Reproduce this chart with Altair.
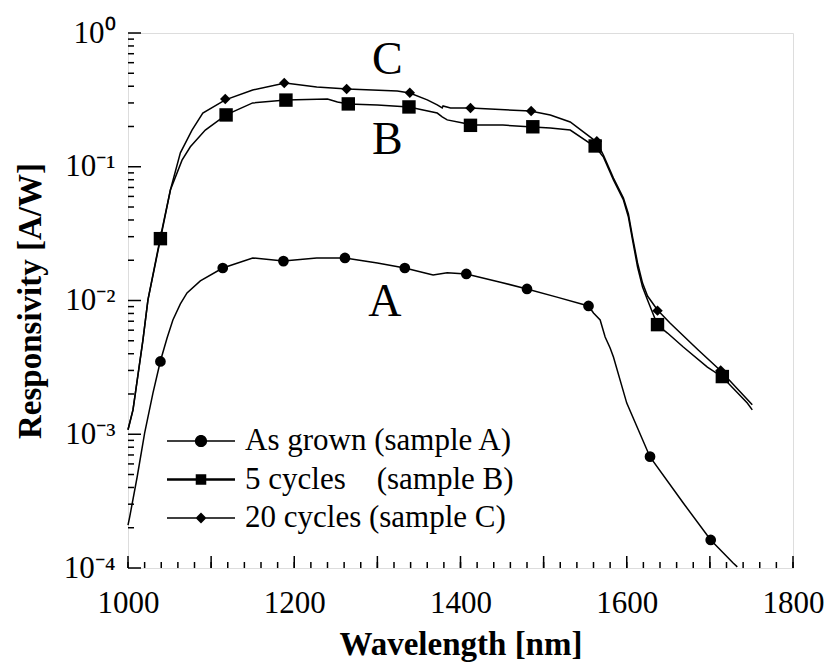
import altair as alt
import pandas as pd

# ---------------- data ----------------
series_names = ["As grown (sample A)",
                "5 cycles\u00a0\u00a0\u00a0\u00a0(sample B)",
                "20 cycles (sample C)"]

# continuous spectra
a_nm = [1000, 1002, 1011, 1020, 1030, 1039, 1047, 1054, 1063, 1071, 1087, 1114, 1150, 1187,
        1227, 1261, 1300, 1333, 1367, 1384, 1407, 1448, 1480, 1516, 1554, 1560, 1568, 1574,
        1580, 1584, 1600, 1628, 1668, 1701, 1728, 1733]
a_val = [0.000209, 0.00024, 0.000479, 0.00102, 0.00203, 0.00353, 0.00525, 0.00715, 0.00942,
         0.0114, 0.0140, 0.0175, 0.0208, 0.0197, 0.0208, 0.0208, 0.0191, 0.0175, 0.0155, 0.0161,
         0.0158, 0.0137, 0.0122, 0.0106, 0.0091, 0.00807, 0.00715, 0.00533, 0.00442, 0.00378,
         0.00171, 0.000676, 0.000306, 0.000162, 0.000109, 0.000102]

b_nm = [1000, 1006, 1018, 1024, 1039, 1051, 1065, 1075, 1093, 1118, 1150, 1190, 1240, 1252,
        1265, 1300, 1338, 1355, 1372, 1378, 1384, 1403, 1412, 1451, 1487, 1508, 1532, 1562,
        1572, 1584, 1596, 1602, 1607, 1613, 1619, 1625, 1637, 1649, 1668, 1697, 1715, 1745, 1751]
b_val = [0.00108, 0.00152, 0.00507, 0.0101, 0.0288, 0.067, 0.112, 0.141, 0.188, 0.244, 0.300,
         0.316, 0.321, 0.305, 0.294, 0.290, 0.280, 0.266, 0.252, 0.236, 0.224, 0.212, 0.205,
         0.205, 0.198, 0.195, 0.188, 0.141, 0.118, 0.0796, 0.0564, 0.0421, 0.0283, 0.0178,
         0.0126, 0.0101, 0.00656, 0.00571, 0.00449, 0.00318, 0.00268, 0.00171, 0.00152]

c_nm = [1000, 1006, 1018, 1024, 1039, 1051, 1063, 1077, 1090, 1117, 1150, 1189, 1227, 1264,
        1324, 1339, 1360, 1372, 1378, 1379, 1388, 1412, 1484, 1508, 1532, 1564, 1572, 1584,
        1596, 1602, 1607, 1613, 1619, 1625, 1637, 1652, 1686, 1712, 1751]
c_val = [0.00108, 0.00152, 0.00507, 0.0101, 0.0298, 0.067, 0.127, 0.188, 0.252, 0.316, 0.375,
         0.423, 0.395, 0.381, 0.368, 0.356, 0.316, 0.290, 0.275, 0.285, 0.275, 0.275, 0.261,
         0.244, 0.216, 0.153, 0.122, 0.0824, 0.0584, 0.0443, 0.0298, 0.0191, 0.0135, 0.0108,
         0.0085, 0.00679, 0.00427, 0.00302, 0.00166]

# symbols on the curves
a_mk_nm = [1039, 1114, 1187, 1261, 1333, 1407, 1480, 1554, 1628, 1701]
a_mk_val = [0.0035, 0.0175, 0.0197, 0.0208, 0.0175, 0.0158, 0.0122, 0.0091, 0.00068, 0.000162]
b_mk_nm = [1039, 1118, 1190, 1265, 1338, 1412, 1487, 1562, 1637, 1715]
b_mk_val = [0.029, 0.244, 0.315, 0.295, 0.280, 0.204, 0.199, 0.143, 0.0066, 0.0027]
c_mk_nm = [1039, 1117, 1188, 1263, 1339, 1412, 1485, 1564, 1637, 1713]
c_mk_val = [0.030, 0.321, 0.423, 0.381, 0.358, 0.275, 0.261, 0.155, 0.0084, 0.0030]

# curve letters
ann_text = ["A", "B", "C"]
ann_nm = [1309, 1312, 1312]
ann_val = [0.0098, 0.158, 0.628]

# axes
x_label_values = [1000, 1200, 1400, 1600, 1800]
x_major_ticks = list(range(1000, 1801, 100))
x_minor_ticks = list(range(1000, 1801, 20))
y_label_values = [1.0, 0.1, 0.01, 0.001, 0.0001]
y_label_texts = ["10\u2070", "10\u207b\u00b9", "10\u207b\u00b2", "10\u207b\u00b3", "10\u207b\u2074"]
y_minor_ticks = [m * 10.0 ** e for e in (-4, -3, -2, -1) for m in range(2, 10)]

# ---------------- tables ----------------
lines_df = pd.concat([
    pd.DataFrame({"series": series_names[0], "nm": a_nm, "val": a_val}),
    pd.DataFrame({"series": series_names[1], "nm": b_nm, "val": b_val}),
    pd.DataFrame({"series": series_names[2], "nm": c_nm, "val": c_val}),
], ignore_index=True)
mk_a = pd.DataFrame({"series": series_names[0], "nm": a_mk_nm, "val": a_mk_val})
mk_b = pd.DataFrame({"series": series_names[1], "nm": b_mk_nm, "val": b_mk_val})
mk_c = pd.DataFrame({"series": series_names[2], "nm": c_mk_nm, "val": c_mk_val})
mk_all = pd.concat([mk_a, mk_b, mk_c], ignore_index=True)
ann_df = pd.DataFrame({"t": ann_text, "nm": ann_nm, "val": ann_val})

FONT = "Liberation Serif"
W, H = 665, 535
xscale = alt.Scale(domain=[1000, 1800], nice=False, zero=False)
yscale = alt.Scale(type="log", domain=[0.0001, 1], nice=False)

label_expr = " : ".join(
    f"abs(log(datum.value)/LN10 - ({v_exp})) < 0.01 ? '{t}'"
    for v_exp, t in zip([0, -1, -2, -3, -4], y_label_texts)
) + " : ''"

AX_X = alt.Axis(
    orient="bottom", values=x_label_values, ticks=False, domain=False, grid=False,
    labelFont=FONT, labelFontSize=31, labelColor="black", labelPadding=20, format="d",
    labelFlush=False,
    title="Wavelength [nm]", titleFont=FONT, titleFontSize=33, titleFontWeight="bold",
    titleColor="black", titlePadding=10)
AX_Y = alt.Axis(
    orient="left", values=y_label_values, labelExpr=label_expr, ticks=False, domain=False,
    grid=False, labelFont=FONT, labelFontSize=31, labelColor="black", labelPadding=13,
    labelFlush=False,
    title="Responsivity [A/W]", titleFont=FONT, titleFontSize=33, titleFontWeight="bold",
    titleColor="black", titlePadding=16)

def X(field="nm"):
    return alt.X(f"{field}:Q", scale=xscale, axis=AX_X)

def Y(field="val"):
    return alt.Y(f"{field}:Q", scale=yscale, axis=AX_Y)

lines = alt.Chart(lines_df).mark_line(color="black", strokeWidth=1.5).encode(
    x=X(), y=Y(), detail="series:N", order="nm:Q",
)

def marker_layer(df, shape, size):
    return alt.Chart(df).mark_point(shape=shape, size=size, filled=True, color="black",
                                    opacity=1).encode(x=X(), y=Y())

m_a = marker_layer(mk_a, "circle", 115)
m_b = marker_layer(mk_b, "square", 180)
m_c = marker_layer(mk_c, "diamond", 110)

# legend symbols: a line with the marker in the middle (unit = 17 px)
legend_paths = [
    "M-2,-0.045H2V0.045H-2Z M0.36,0A0.36,0.36,0,1,1,-0.36,0A0.36,0.36,0,1,1,0.36,0Z",
    "M-2,-0.075H2V0.075H-2Z M-0.31,-0.31H0.31V0.31H-0.31Z",
    "M-2,-0.045H2V0.045H-2Z M0,-0.32L0.32,0L0,0.32L-0.32,0Z",
]
carrier = alt.Chart(mk_all).mark_point(filled=True, color="black", opacity=0).encode(
    x=X(), y=Y(),
    shape=alt.Shape("series:N", scale=alt.Scale(domain=series_names, range=legend_paths),
                    legend=alt.Legend(title=None, orient="none", legendX=56, legendY=391,
                                      padding=0,
                                      symbolSize=1156, symbolFillColor="black",
                                      symbolStrokeColor="black", symbolStrokeWidth=0,
                                      symbolOpacity=1, labelFont=FONT, labelFontSize=31,
                                      labelColor="black", labelOffset=27, labelLimit=600,
                                      rowPadding=6.5)),
)

labels = alt.Chart(ann_df).mark_text(font=FONT, fontSize=46, color="black",
                                     baseline="middle", align="center").encode(
    x=X(), y=Y(), text="t:N",
)

# inward ticks: positions through the scales, fixed pixel lengths
def x_ticks(vals, length):
    return alt.Chart(pd.DataFrame({"nm": vals})).mark_rule(color="black", strokeWidth=1.5).encode(
        x=X(), y=alt.value(H), y2=alt.value(H - length),
    )

def y_ticks(vals, length):
    return alt.Chart(pd.DataFrame({"val": vals})).mark_rule(color="black", strokeWidth=1.5).encode(
        y=Y(), x=alt.value(0), x2=alt.value(length),
    )

ticks = [x_ticks(x_minor_ticks, 6), x_ticks(x_major_ticks, 12),
         y_ticks(y_minor_ticks, 6), y_ticks(y_label_values, 13)]

chart = alt.layer(lines, m_a, m_b, m_c, carrier, labels, *ticks).properties(
    width=W, height=H,
    autosize=alt.AutoSizeParams(type="none"),
    padding={"left": 128, "top": 33, "right": 38, "bottom": 98},
    background="white",
).configure_view(stroke="black", strokeWidth=2).configure(font=FONT)

chart.save("out.html", embed_options={"renderer": "svg", "actions": False})
